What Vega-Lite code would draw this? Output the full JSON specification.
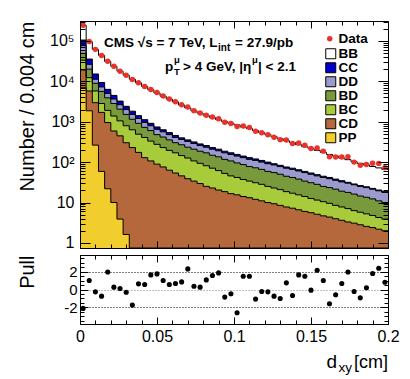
{
  "$schema": "https://vega.github.io/schema/vega-lite/v6.json",
  "background": "white",
  "padding": {"left": 16, "top": 20, "right": 5, "bottom": 5},
  "spacing": 2,
  "config": {
    "font": "Liberation Sans",
    "view": {"stroke": "black", "strokeWidth": 1},
    "axis": {"grid": false, "domainColor": "black", "domainWidth": 1, "tickColor": "black", "tickWidth": 1, "labelColor": "black", "titleColor": "black", "labelFont": "Liberation Sans", "titleFont": "Liberation Sans", "titleFontWeight": "normal", "labelOverlap": false, "labelBound": false, "labelFlush": false}
  },
  "data": {"values": [
    {"lo":0,"hi":0.004,"c":0.002,"BB":245500,"CC":104700,"DD":75860,"BD":48980,"BC":33110,"CD":19050,"PP":6918,"Data":244460,"Pull":-2.11},
    {"lo":0.004,"hi":0.008,"c":0.006,"BB":95500,"CC":35480,"DD":26300,"BD":19950,"BC":12300,"CD":5754,"PP":1862,"Data":95810,"Pull":1.0},
    {"lo":0.008,"hi":0.012,"c":0.01,"BB":61660,"CC":15140,"DD":11220,"BD":8913,"BC":5754,"CD":2951,"PP":263,"Data":61595,"Pull":-0.26},
    {"lo":0.012,"hi":0.016,"c":0.014,"BB":43650,"CC":9333,"DD":7244,"BD":5623,"BC":2818,"CD":1698,"PP":58.9,"Data":43497,"Pull":-0.74},
    {"lo":0.016,"hi":0.02,"c":0.018,"BB":30900,"CC":6310,"DD":5012,"BD":3890,"BC":1905,"CD":955,"PP":21.9,"Data":31248,"Pull":1.96},
    {"lo":0.02,"hi":0.024,"c":0.022,"BB":23440,"CC":4467,"DD":3631,"BD":2818,"BC":1380,"CD":589,"PP":10.0,"Data":23482,"Pull":0.26},
    {"lo":0.024,"hi":0.028,"c":0.026,"BB":17780,"CC":3236,"DD":2630,"BD":2042,"BC":1047,"CD":447,"PP":3.89,"Data":17798,"Pull":0.11},
    {"lo":0.028,"hi":0.032,"c":0.03,"BB":14125,"CC":2399,"DD":1995,"BD":1514,"BC":794,"CD":302,"PP":1.62,"Data":14089,"Pull":-0.30},
    {"lo":0.032,"hi":0.036,"c":0.034,"BB":11220,"CC":1820,"DD":1514,"BD":1148,"BC":631,"CD":229,"PP":0,"Data":11036,"Pull":-1.74},
    {"lo":0.036,"hi":0.04,"c":0.038,"BB":9120,"CC":1413,"DD":1202,"BD":912,"BC":490,"CD":174,"PP":0,"Data":9180,"Pull":0.63},
    {"lo":0.04,"hi":0.044,"c":0.042,"BB":7413,"CC":1122,"DD":955,"BD":724,"BC":407,"CD":129,"PP":0,"Data":7461,"Pull":0.56},
    {"lo":0.044,"hi":0.048,"c":0.046,"BB":6166,"CC":912,"DD":794,"BD":603,"BC":331,"CD":107,"PP":0,"Data":6294,"Pull":1.63},
    {"lo":0.048,"hi":0.052,"c":0.05,"BB":5129,"CC":741,"DD":646,"BD":479,"BC":275,"CD":89.1,"PP":0,"Data":5254,"Pull":1.74},
    {"lo":0.052,"hi":0.056,"c":0.054,"BB":4266,"CC":631,"DD":562,"BD":417,"BC":229,"CD":75.9,"PP":0,"Data":4331,"Pull":1.0},
    {"lo":0.056,"hi":0.06,"c":0.058,"BB":3631,"CC":537,"DD":479,"BD":355,"BC":195,"CD":63.1,"PP":0,"Data":3665,"Pull":0.56},
    {"lo":0.06,"hi":0.064,"c":0.062,"BB":3090,"CC":457,"DD":407,"BD":302,"BC":170,"CD":53.7,"PP":0,"Data":3127,"Pull":0.67},
    {"lo":0.064,"hi":0.068,"c":0.066,"BB":2570,"CC":398,"DD":363,"BD":269,"BC":145,"CD":45.7,"PP":0,"Data":2613,"Pull":0.85},
    {"lo":0.068,"hi":0.072,"c":0.07,"BB":2188,"CC":355,"DD":324,"BD":234,"BC":126,"CD":38.9,"PP":0,"Data":2296,"Pull":2.30},
    {"lo":0.072,"hi":0.076,"c":0.074,"BB":1862,"CC":316,"DD":288,"BD":209,"BC":107,"CD":33.9,"PP":0,"Data":1878,"Pull":0.37},
    {"lo":0.076,"hi":0.08,"c":0.078,"BB":1622,"CC":282,"DD":257,"BD":186,"BC":93.3,"CD":29.5,"PP":0,"Data":1632,"Pull":0.26},
    {"lo":0.08,"hi":0.084,"c":0.082,"BB":1413,"CC":257,"DD":234,"BD":170,"BC":81.3,"CD":25.1,"PP":0,"Data":1453,"Pull":1.07},
    {"lo":0.084,"hi":0.088,"c":0.086,"BB":1259,"CC":229,"DD":209,"BD":148,"BC":70.8,"CD":22.9,"PP":0,"Data":1314,"Pull":1.56},
    {"lo":0.088,"hi":0.092,"c":0.09,"BB":1122,"CC":209,"DD":191,"BD":135,"BC":61.7,"CD":20.4,"PP":0,"Data":1184,"Pull":1.85},
    {"lo":0.092,"hi":0.096,"c":0.094,"BB":1000,"CC":186,"DD":170,"BD":117,"BC":52.5,"CD":18.6,"PP":0,"Data":973,"Pull":-0.85},
    {"lo":0.096,"hi":0.1,"c":0.098,"BB":912,"CC":170,"DD":155,"BD":107,"BC":45.7,"CD":16.6,"PP":0,"Data":898,"Pull":-0.48},
    {"lo":0.1,"hi":0.104,"c":0.102,"BB":832,"CC":155,"DD":141,"BD":95.5,"BC":41.7,"CD":15.5,"PP":0,"Data":757,"Pull":-2.59},
    {"lo":0.104,"hi":0.108,"c":0.106,"BB":741,"CC":141,"DD":129,"BD":87.1,"BC":37.2,"CD":14.1,"PP":0,"Data":781,"Pull":1.48},
    {"lo":0.108,"hi":0.112,"c":0.11,"BB":676,"CC":129,"DD":117,"BD":77.6,"BC":33.9,"CD":13.2,"PP":0,"Data":714,"Pull":1.48},
    {"lo":0.112,"hi":0.116,"c":0.114,"BB":603,"CC":120,"DD":110,"BD":72.4,"BC":30.9,"CD":12.0,"PP":0,"Data":577,"Pull":-1.07},
    {"lo":0.116,"hi":0.12,"c":0.118,"BB":537,"CC":110,"DD":100,"BD":66.1,"BC":28.2,"CD":11.0,"PP":0,"Data":532,"Pull":-0.22},
    {"lo":0.12,"hi":0.124,"c":0.122,"BB":479,"CC":100,"DD":91.2,"BD":58.9,"BC":25.1,"CD":10.0,"PP":0,"Data":473,"Pull":-0.26},
    {"lo":0.124,"hi":0.128,"c":0.126,"BB":427,"CC":91.2,"DD":85.1,"BD":55.0,"BC":22.9,"CD":9.33,"PP":0,"Data":412,"Pull":-0.74},
    {"lo":0.128,"hi":0.132,"c":0.13,"BB":380,"CC":83.2,"DD":77.6,"BD":50.1,"BC":20.9,"CD":8.51,"PP":0,"Data":360,"Pull":-1.0},
    {"lo":0.132,"hi":0.136,"c":0.134,"BB":339,"CC":75.9,"DD":70.8,"BD":44.7,"BC":18.6,"CD":7.76,"PP":0,"Data":353,"Pull":0.74},
    {"lo":0.136,"hi":0.14,"c":0.138,"BB":302,"CC":70.8,"DD":66.1,"BD":41.7,"BC":17.0,"CD":7.24,"PP":0,"Data":290,"Pull":-0.67},
    {"lo":0.14,"hi":0.144,"c":0.142,"BB":269,"CC":64.6,"DD":60.3,"BD":38.0,"BC":15.5,"CD":6.61,"PP":0,"Data":296,"Pull":1.63},
    {"lo":0.144,"hi":0.148,"c":0.146,"BB":240,"CC":58.9,"DD":55.0,"BD":33.9,"BC":14.1,"CD":6.03,"PP":0,"Data":263,"Pull":1.48},
    {"lo":0.148,"hi":0.152,"c":0.15,"BB":219,"CC":53.7,"DD":50.1,"BD":30.9,"BC":12.6,"CD":5.62,"PP":0,"Data":218,"Pull":-0.07},
    {"lo":0.152,"hi":0.156,"c":0.154,"BB":195,"CC":49.0,"DD":45.7,"BD":28.2,"BC":11.5,"CD":5.13,"PP":0,"Data":225,"Pull":2.15},
    {"lo":0.156,"hi":0.16,"c":0.158,"BB":174,"CC":44.7,"DD":41.7,"BD":25.1,"BC":10.5,"CD":4.68,"PP":0,"Data":187,"Pull":1.0},
    {"lo":0.16,"hi":0.164,"c":0.162,"BB":155,"CC":41.7,"DD":38.9,"BD":23.4,"BC":9.55,"CD":4.37,"PP":0,"Data":135,"Pull":-1.59},
    {"lo":0.164,"hi":0.168,"c":0.166,"BB":141,"CC":38.0,"DD":35.5,"BD":21.4,"BC":8.51,"CD":3.98,"PP":0,"Data":134,"Pull":-0.59},
    {"lo":0.168,"hi":0.172,"c":0.17,"BB":126,"CC":34.7,"DD":32.4,"BD":19.1,"BC":7.76,"CD":3.63,"PP":0,"Data":134,"Pull":0.67},
    {"lo":0.172,"hi":0.176,"c":0.174,"BB":115,"CC":31.6,"DD":30.2,"BD":17.8,"BC":7.08,"CD":3.31,"PP":0,"Data":136,"Pull":1.96},
    {"lo":0.176,"hi":0.18,"c":0.178,"BB":102,"CC":28.8,"DD":27.5,"BD":16.2,"BC":6.31,"CD":3.09,"PP":0,"Data":100,"Pull":-0.22},
    {"lo":0.18,"hi":0.184,"c":0.182,"BB":93,"CC":26.3,"DD":25.1,"BD":14.5,"BC":5.75,"CD":2.82,"PP":0,"Data":84,"Pull":-0.93},
    {"lo":0.184,"hi":0.188,"c":0.186,"BB":85,"CC":24.5,"DD":23.4,"BD":13.5,"BC":5.25,"CD":2.57,"PP":0,"Data":87,"Pull":0.19},
    {"lo":0.188,"hi":0.192,"c":0.19,"BB":78,"CC":22.4,"DD":21.4,"BD":12.3,"BC":4.79,"CD":2.40,"PP":0,"Data":94,"Pull":1.78},
    {"lo":0.192,"hi":0.196,"c":0.194,"BB":72,"CC":20.4,"DD":19.5,"BD":11.0,"BC":4.27,"CD":2.19,"PP":0,"Data":92,"Pull":2.37},
    {"lo":0.196,"hi":0.2,"c":0.198,"BB":66,"CC":18.6,"DD":17.8,"BD":10.0,"BC":3.89,"CD":2.00,"PP":0,"Data":73,"Pull":0.81}
  ]},
  "vconcat": [
    {
      "width": 308,
      "height": 227,
      "resolve": {"axis": {"x": "independent", "y": "independent"}},
      "layer": [
        {
          "layer": [
            {
              "transform": [{"fold": ["lo", "hi"], "as": ["edge", "x"]}],
              "mark": {"type": "area", "opacity": 1},
              "encoding": {
                "x": {"field": "x", "type": "quantitative", "scale": {"domain": [0, 0.2], "nice": false, "zero": false}, "axis": null},
                "y": {"field": "BB", "type": "quantitative", "scale": {"type": "log", "domain": [0.75, 310000], "nice": false, "clamp": true}, "axis": null},
                "y2": {"datum": 0.75},
                "order": [{"field": "x", "type": "quantitative"}, {"field": "edge", "type": "nominal"}],
                "color": {"datum": "BB", "type": "nominal",
                  "scale": {"domain": ["BB","CC","DD","BD","BC","CD","PP"], "range": ["#ffffff","#0000c8","#9a9acd","#789a3c","#a8cb3c","#b4683c","#f2cd2e"]},
                  "legend": {"orient": "none", "legendX": 244, "legendY": 26, "title": null, "padding": 0, "rowPadding": -1,
                    "labelFont": "Liberation Sans", "labelFontSize": 13.5, "labelFontWeight": "bold", "labelColor": "black", "labelOffset": 1,
                    "symbolType": "square", "symbolSize": 100, "symbolStrokeWidth": 1, "symbolStrokeColor": "black"}}
              }
            },
            {
              "transform": [{"fold": ["lo", "hi"], "as": ["edge", "x"]}],
              "mark": {"type": "area", "opacity": 1},
              "encoding": {
                "x": {"field": "x", "type": "quantitative", "scale": {"domain": [0, 0.2], "nice": false, "zero": false}, "axis": null},
                "y": {"field": "CC", "type": "quantitative", "scale": {"type": "log", "domain": [0.75, 310000], "nice": false, "clamp": true}, "axis": null},
                "y2": {"datum": 0.75},
                "order": [{"field": "x", "type": "quantitative"}, {"field": "edge", "type": "nominal"}],
                "color": {"datum": "CC", "type": "nominal", "legend": null}
              }
            },
            {
              "transform": [{"fold": ["lo", "hi"], "as": ["edge", "x"]}],
              "mark": {"type": "area", "opacity": 1},
              "encoding": {
                "x": {"field": "x", "type": "quantitative", "scale": {"domain": [0, 0.2], "nice": false, "zero": false}, "axis": null},
                "y": {"field": "DD", "type": "quantitative", "scale": {"type": "log", "domain": [0.75, 310000], "nice": false, "clamp": true}, "axis": null},
                "y2": {"datum": 0.75},
                "order": [{"field": "x", "type": "quantitative"}, {"field": "edge", "type": "nominal"}],
                "color": {"datum": "DD", "type": "nominal", "legend": null}
              }
            },
            {
              "transform": [{"fold": ["lo", "hi"], "as": ["edge", "x"]}],
              "mark": {"type": "area", "opacity": 1},
              "encoding": {
                "x": {"field": "x", "type": "quantitative", "scale": {"domain": [0, 0.2], "nice": false, "zero": false}, "axis": null},
                "y": {"field": "BD", "type": "quantitative", "scale": {"type": "log", "domain": [0.75, 310000], "nice": false, "clamp": true}, "axis": null},
                "y2": {"datum": 0.75},
                "order": [{"field": "x", "type": "quantitative"}, {"field": "edge", "type": "nominal"}],
                "color": {"datum": "BD", "type": "nominal", "legend": null}
              }
            },
            {
              "transform": [{"fold": ["lo", "hi"], "as": ["edge", "x"]}],
              "mark": {"type": "area", "opacity": 1},
              "encoding": {
                "x": {"field": "x", "type": "quantitative", "scale": {"domain": [0, 0.2], "nice": false, "zero": false}, "axis": null},
                "y": {"field": "BC", "type": "quantitative", "scale": {"type": "log", "domain": [0.75, 310000], "nice": false, "clamp": true}, "axis": null},
                "y2": {"datum": 0.75},
                "order": [{"field": "x", "type": "quantitative"}, {"field": "edge", "type": "nominal"}],
                "color": {"datum": "BC", "type": "nominal", "legend": null}
              }
            },
            {
              "transform": [{"fold": ["lo", "hi"], "as": ["edge", "x"]}],
              "mark": {"type": "area", "opacity": 1},
              "encoding": {
                "x": {"field": "x", "type": "quantitative", "scale": {"domain": [0, 0.2], "nice": false, "zero": false}, "axis": null},
                "y": {"field": "CD", "type": "quantitative", "scale": {"type": "log", "domain": [0.75, 310000], "nice": false, "clamp": true}, "axis": null},
                "y2": {"datum": 0.75},
                "order": [{"field": "x", "type": "quantitative"}, {"field": "edge", "type": "nominal"}],
                "color": {"datum": "CD", "type": "nominal", "legend": null}
              }
            },
            {
              "transform": [{"fold": ["lo", "hi"], "as": ["edge", "x"]}],
              "mark": {"type": "area", "opacity": 1},
              "encoding": {
                "x": {"field": "x", "type": "quantitative", "scale": {"domain": [0, 0.2], "nice": false, "zero": false}, "axis": null},
                "y": {"field": "PP", "type": "quantitative", "scale": {"type": "log", "domain": [0.75, 310000], "nice": false, "clamp": true}, "axis": null},
                "y2": {"datum": 0.75},
                "order": [{"field": "x", "type": "quantitative"}, {"field": "edge", "type": "nominal"}],
                "color": {"datum": "PP", "type": "nominal", "legend": null}
              }
            },
            {
              "transform": [
                {"fold": ["lo", "hi"], "as": ["edge", "x"]},
                {"fold": ["BB", "CC", "DD", "BD", "BC", "CD", "PP"], "as": ["series", "val"]}
              ],
              "mark": {"type": "line", "color": "black", "strokeWidth": 1},
              "encoding": {
                "x": {"field": "x", "type": "quantitative", "scale": {"domain": [0, 0.2], "nice": false, "zero": false}, "axis": null},
                "y": {"field": "val", "type": "quantitative", "scale": {"type": "log", "domain": [0.75, 310000], "nice": false, "clamp": true}, "axis": null},
                "detail": {"field": "series", "type": "nominal"},
                "order": [{"field": "x", "type": "quantitative"}, {"field": "edge", "type": "nominal"}]
              }
            },
            {
              "mark": {"type": "point", "filled": true, "size": 30, "opacity": 1, "color": "#e8322a"},
              "encoding": {
                "x": {"field": "c", "type": "quantitative", "scale": {"domain": [0, 0.2], "nice": false, "zero": false}, "axis": null},
                "y": {"field": "Data", "type": "quantitative", "scale": {"type": "log", "domain": [0.75, 310000], "nice": false, "clamp": true}, "axis": null},
                "shape": {"datum": "Data", "type": "nominal", "scale": {"domain": ["Data"], "range": ["circle"]},
                  "legend": {"orient": "none", "legendX": 243, "legendY": 11, "title": null, "padding": 0,
                    "labelFont": "Liberation Sans", "labelFontSize": 13.5, "labelFontWeight": "bold", "labelColor": "black", "labelOffset": 2,
                    "symbolSize": 30, "symbolFillColor": "#e8322a", "symbolStrokeWidth": 0}}
              }
            },
            {
              "data": {"values": [{}]},
              "mark": {"type": "text", "text": "CMS √s = 7 TeV, L", "font": "Liberation Sans", "fontWeight": "bold", "fontSize": 13.5, "align": "left", "baseline": "alphabetic", "color": "black"},
              "encoding": {"x": {"datum": 0.0156, "type": "quantitative", "axis": null}, "y": {"datum": 70500, "type": "quantitative", "axis": null}}
            },
            {
              "data": {"values": [{}]},
              "mark": {"type": "text", "text": "int", "font": "Liberation Sans", "fontWeight": "bold", "fontSize": 10, "align": "left", "baseline": "alphabetic", "color": "black", "dx": 114, "dy": 4},
              "encoding": {"x": {"datum": 0.0156, "type": "quantitative", "axis": null}, "y": {"datum": 70500, "type": "quantitative", "axis": null}}
            },
            {
              "data": {"values": [{}]},
              "mark": {"type": "text", "text": "= 27.9/pb", "font": "Liberation Sans", "fontWeight": "bold", "fontSize": 13.5, "align": "left", "baseline": "alphabetic", "color": "black", "dx": 131},
              "encoding": {"x": {"datum": 0.0156, "type": "quantitative", "axis": null}, "y": {"datum": 70500, "type": "quantitative", "axis": null}}
            },
            {
              "data": {"values": [{}]},
              "mark": {"type": "text", "text": "p", "font": "Liberation Sans", "fontWeight": "bold", "fontSize": 13.5, "align": "left", "baseline": "alphabetic", "color": "black"},
              "encoding": {"x": {"datum": 0.0552, "type": "quantitative", "axis": null}, "y": {"datum": 17950, "type": "quantitative", "axis": null}}
            },
            {
              "data": {"values": [{}]},
              "mark": {"type": "text", "text": "T", "font": "Liberation Sans", "fontWeight": "bold", "fontSize": 9.5, "align": "left", "baseline": "alphabetic", "color": "black", "dx": 9, "dy": 4},
              "encoding": {"x": {"datum": 0.0552, "type": "quantitative", "axis": null}, "y": {"datum": 17950, "type": "quantitative", "axis": null}}
            },
            {
              "data": {"values": [{}]},
              "mark": {"type": "text", "text": "μ", "font": "Liberation Sans", "fontWeight": "bold", "fontSize": 9.5, "align": "left", "baseline": "alphabetic", "color": "black", "dx": 9, "dy": -8},
              "encoding": {"x": {"datum": 0.0552, "type": "quantitative", "axis": null}, "y": {"datum": 17950, "type": "quantitative", "axis": null}}
            },
            {
              "data": {"values": [{}]},
              "mark": {"type": "text", "text": "> 4 GeV, |η", "font": "Liberation Sans", "fontWeight": "bold", "fontSize": 13.5, "align": "left", "baseline": "alphabetic", "color": "black", "dx": 18},
              "encoding": {"x": {"datum": 0.0552, "type": "quantitative", "axis": null}, "y": {"datum": 17950, "type": "quantitative", "axis": null}}
            },
            {
              "data": {"values": [{}]},
              "mark": {"type": "text", "text": "μ", "font": "Liberation Sans", "fontWeight": "bold", "fontSize": 9.5, "align": "left", "baseline": "alphabetic", "color": "black", "dx": 87, "dy": -8},
              "encoding": {"x": {"datum": 0.0552, "type": "quantitative", "axis": null}, "y": {"datum": 17950, "type": "quantitative", "axis": null}}
            },
            {
              "data": {"values": [{}]},
              "mark": {"type": "text", "text": "| < 2.1", "font": "Liberation Sans", "fontWeight": "bold", "fontSize": 13.5, "align": "left", "baseline": "alphabetic", "color": "black", "dx": 93},
              "encoding": {"x": {"datum": 0.0552, "type": "quantitative", "axis": null}, "y": {"datum": 17950, "type": "quantitative", "axis": null}}
            }
          ]
        },
        {
          "mark": {"type": "point", "opacity": 0},
          "encoding": {
            "x": {"field": "c", "type": "quantitative", "scale": {"domain": [0, 0.2], "nice": false, "zero": false},
              "axis": {"orient": "bottom", "values": [0,0.05,0.1,0.15,0.2], "labels": false, "title": null, "tickSize": -7, "zindex": 1}},
            "y": {"field": "BB", "type": "quantitative", "scale": {"type": "log", "domain": [0.75, 310000], "nice": false, "clamp": true},
              "axis": {"orient": "left", "values": [1,10,100,1000,10000,100000],
                "labelExpr": "datum.value == 1 ? '1' : datum.value == 10 ? '10' : datum.value == 100 ? '10²' : datum.value == 1000 ? '10³' : datum.value == 10000 ? '10⁴' : '10⁵'",
                "labelFontSize": 16, "labelPadding": 16, "tickSize": -10, "zindex": 1,
                "title": "Number / 0.004 cm", "titleFontSize": 20, "titleX": -47, "titleY": 0, "titleAngle": 270, "titleAlign": "right", "titleBaseline": "alphabetic"}}
          }
        },
        {
          "mark": {"type": "point", "opacity": 0},
          "encoding": {
            "x": {"field": "c", "type": "quantitative", "scale": {"domain": [0, 0.2], "nice": false, "zero": false},
              "axis": {"orient": "top", "values": [0,0.05,0.1,0.15,0.2], "labels": false, "title": null, "tickSize": -7, "zindex": 1}},
            "y": {"field": "BB", "type": "quantitative", "scale": {"type": "log", "domain": [0.75, 310000], "nice": false, "clamp": true},
              "axis": {"orient": "right", "values": [1,10,100,1000,10000,100000], "labels": false, "title": null, "tickSize": -10, "zindex": 1}}
          }
        },
        {
          "mark": {"type": "point", "opacity": 0},
          "encoding": {
            "x": {"field": "c", "type": "quantitative", "scale": {"domain": [0, 0.2], "nice": false, "zero": false},
              "axis": {"orient": "bottom", "values": [0.01,0.02,0.03,0.04,0.06,0.07,0.08,0.09,0.11,0.12,0.13,0.14,0.16,0.17,0.18,0.19], "labels": false, "title": null, "tickSize": -4, "domain": false, "zindex": 1}},
            "y": {"field": "BB", "type": "quantitative", "scale": {"type": "log", "domain": [0.75, 310000], "nice": false, "clamp": true},
              "axis": {"orient": "left", "values": [2,3,4,5,6,7,8,9,20,30,40,50,60,70,80,90,200,300,400,500,600,700,800,900,2000,3000,4000,5000,6000,7000,8000,9000,20000,30000,40000,50000,60000,70000,80000,90000,200000,300000], "labels": false, "title": null, "tickSize": -5, "domain": false, "zindex": 1}}
          }
        },
        {
          "mark": {"type": "point", "opacity": 0},
          "encoding": {
            "x": {"field": "c", "type": "quantitative", "scale": {"domain": [0, 0.2], "nice": false, "zero": false},
              "axis": {"orient": "top", "values": [0.01,0.02,0.03,0.04,0.06,0.07,0.08,0.09,0.11,0.12,0.13,0.14,0.16,0.17,0.18,0.19], "labels": false, "title": null, "tickSize": -4, "domain": false, "zindex": 1}},
            "y": {"field": "BB", "type": "quantitative", "scale": {"type": "log", "domain": [0.75, 310000], "nice": false, "clamp": true},
              "axis": {"orient": "right", "values": [2,3,4,5,6,7,8,9,20,30,40,50,60,70,80,90,200,300,400,500,600,700,800,900,2000,3000,4000,5000,6000,7000,8000,9000,20000,30000,40000,50000,60000,70000,80000,90000,200000,300000], "labels": false, "title": null, "tickSize": -5, "domain": false, "zindex": 1}}
          }
        }
      ]
    },
    {
      "width": 308,
      "height": 69,
      "resolve": {"axis": {"x": "independent", "y": "independent"}},
      "layer": [
        {
          "layer": [
            {
              "mark": {"type": "point", "filled": true, "size": 26, "color": "black", "opacity": 1},
              "encoding": {
                "x": {"field": "c", "type": "quantitative", "scale": {"domain": [0, 0.2], "nice": false, "zero": false}, "axis": null},
                "y": {"field": "Pull", "type": "quantitative", "scale": {"domain": [-3.85, 3.85], "nice": false, "zero": false}, "axis": null}
              }
            },
            {
              "data": {"values": [{}]},
              "mark": {"type": "text", "text": "[cm]", "font": "Liberation Sans", "fontSize": 18, "align": "right", "baseline": "alphabetic", "color": "black"},
              "encoding": {"x": {"datum": 0.2, "type": "quantitative", "axis": null}, "y": {"datum": -8.76, "type": "quantitative", "axis": null}}
            },
            {
              "data": {"values": [{}]},
              "mark": {"type": "text", "text": "xy", "font": "Liberation Sans", "fontSize": 13.5, "align": "right", "baseline": "alphabetic", "color": "black", "dx": -36, "dy": 4},
              "encoding": {"x": {"datum": 0.2, "type": "quantitative", "axis": null}, "y": {"datum": -8.76, "type": "quantitative", "axis": null}}
            },
            {
              "data": {"values": [{}]},
              "mark": {"type": "text", "text": "d", "font": "Liberation Sans", "fontSize": 19, "align": "right", "baseline": "alphabetic", "color": "black", "dx": -51},
              "encoding": {"x": {"datum": 0.2, "type": "quantitative", "axis": null}, "y": {"datum": -8.76, "type": "quantitative", "axis": null}}
            }
          ]
        },
        {
          "mark": {"type": "point", "opacity": 0},
          "encoding": {
            "x": {"field": "c", "type": "quantitative", "scale": {"domain": [0, 0.2], "nice": false, "zero": false}, "axis": null},
            "y": {"field": "Pull", "type": "quantitative", "scale": {"domain": [-3.85, 3.85], "nice": false, "zero": false},
              "axis": {"orient": "left", "values": [-2, 2], "labels": false, "ticks": false, "domain": false, "title": null,
                "grid": true, "gridDash": [1, 2], "gridWidth": 1, "gridColor": "black", "zindex": 0}}
          }
        },
        {
          "mark": {"type": "point", "opacity": 0},
          "encoding": {
            "x": {"field": "c", "type": "quantitative", "scale": {"domain": [0, 0.2], "nice": false, "zero": false}, "axis": null},
            "y": {"field": "Pull", "type": "quantitative", "scale": {"domain": [-3.85, 3.85], "nice": false, "zero": false},
              "axis": {"orient": "left", "values": [0], "labels": false, "ticks": false, "domain": false, "title": null,
                "grid": true, "gridDash": [1, 2], "gridWidth": 1, "gridColor": "#808080", "zindex": 0}}
          }
        },
        {
          "mark": {"type": "point", "opacity": 0},
          "encoding": {
            "x": {"field": "c", "type": "quantitative", "scale": {"domain": [0, 0.2], "nice": false, "zero": false},
              "axis": {"orient": "bottom", "values": [0,0.05,0.1,0.15,0.2],
                "labelExpr": "datum.value == 0 ? '0' : datum.value == 0.05 ? '0.05' : datum.value == 0.1 ? '0.1' : datum.value == 0.15 ? '0.15' : '0.2'",
                "labelFontSize": 16, "labelPadding": 11, "title": null, "tickSize": -7, "zindex": 1}},
            "y": {"field": "Pull", "type": "quantitative", "scale": {"domain": [-3.85, 3.85], "nice": false, "zero": false},
              "axis": {"orient": "left", "values": [-2, 0, 2],
                "labelExpr": "datum.value == 2 ? '2' : datum.value == 0 ? '0' : '-2'",
                "labelFontSize": 15, "labelPadding": 11, "tickSize": -8, "zindex": 1,
                "title": "Pull", "titleFontSize": 20, "titleX": -47, "titleY": 0, "titleAngle": 270, "titleAlign": "right", "titleBaseline": "alphabetic"}}
          }
        },
        {
          "mark": {"type": "point", "opacity": 0},
          "encoding": {
            "x": {"field": "c", "type": "quantitative", "scale": {"domain": [0, 0.2], "nice": false, "zero": false},
              "axis": {"orient": "top", "values": [0,0.05,0.1,0.15,0.2], "labels": false, "title": null, "tickSize": -7, "zindex": 1}},
            "y": {"field": "Pull", "type": "quantitative", "scale": {"domain": [-3.85, 3.85], "nice": false, "zero": false},
              "axis": {"orient": "right", "values": [-2, 0, 2], "labels": false, "title": null, "tickSize": -8, "zindex": 1}}
          }
        },
        {
          "mark": {"type": "point", "opacity": 0},
          "encoding": {
            "x": {"field": "c", "type": "quantitative", "scale": {"domain": [0, 0.2], "nice": false, "zero": false},
              "axis": {"orient": "bottom", "values": [0.01,0.02,0.03,0.04,0.06,0.07,0.08,0.09,0.11,0.12,0.13,0.14,0.16,0.17,0.18,0.19], "labels": false, "title": null, "tickSize": -4, "domain": false, "zindex": 1}},
            "y": {"field": "Pull", "type": "quantitative", "scale": {"domain": [-3.85, 3.85], "nice": false, "zero": false},
              "axis": {"orient": "left", "values": [-3.5,-3,-2.5,-1.5,-1,-0.5,0.5,1,1.5,2.5,3,3.5], "labels": false, "title": null, "tickSize": -4, "domain": false, "zindex": 1}}
          }
        },
        {
          "mark": {"type": "point", "opacity": 0},
          "encoding": {
            "x": {"field": "c", "type": "quantitative", "scale": {"domain": [0, 0.2], "nice": false, "zero": false},
              "axis": {"orient": "top", "values": [0.01,0.02,0.03,0.04,0.06,0.07,0.08,0.09,0.11,0.12,0.13,0.14,0.16,0.17,0.18,0.19], "labels": false, "title": null, "tickSize": -4, "domain": false, "zindex": 1}},
            "y": {"field": "Pull", "type": "quantitative", "scale": {"domain": [-3.85, 3.85], "nice": false, "zero": false},
              "axis": {"orient": "right", "values": [-3.5,-3,-2.5,-1.5,-1,-0.5,0.5,1,1.5,2.5,3,3.5], "labels": false, "title": null, "tickSize": -4, "domain": false, "zindex": 1}}
          }
        }
      ]
    }
  ]
}
